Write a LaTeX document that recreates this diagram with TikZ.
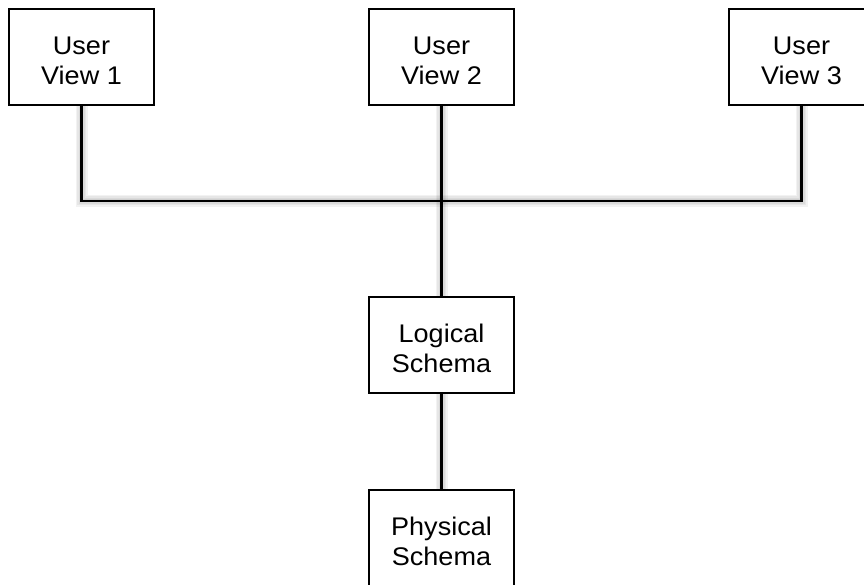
\documentclass[tikz,border=0pt]{standalone}
\usepackage{fontspec}
\setmainfont{Liberation Sans}[FakeStretch=1.06]
\begin{document}
\begin{tikzpicture}[x=1pt,y=-1pt,
  box/.style={draw=black, line width=2pt, fill=white, minimum width=145pt,
    minimum height=96pt, inner sep=0pt,
    label={[boxtext]center:#1}},
  boxtext/.style={align=center, yshift=-3.5pt, inner sep=0pt,
    font=\fontsize{25.5}{30}\selectfont},
  wire/.style={line width=2.4pt, black},
  softshadow/.style={line cap=butt, draw=black, draw opacity=0.05, shift={(4,4)}}
]
\useasboundingbox (0,0) rectangle (864,585);
\clip (0,0) rectangle (864,585);

% boxes
\node[box={User\\View 1}] (v1) at (81.5,57) {};
\node[box={User\\View 2}] (v2) at (441.5,57) {};
\node[box={User\\View 3}] (v3) at (801.5,57) {};
\node[box={Logical\\Schema}] (ls) at (441.5,345) {};
\node[box={Physical\\Schema}] (ps) at (441.5,537.5) {};

\coordinate (b1) at (v1.south |- 0,201);
\coordinate (b3) at (v3.south |- 0,201);

% soft shadows under the connectors
\foreach \w in {12,9,6,3} {
  \draw[softshadow, line width=\w pt] (v1.south) -- (b1) -- (b3) -- (v3.south);
  \draw[softshadow, line width=\w pt] (v2.south) -- (ls.north);
  \draw[softshadow, line width=\w pt] (ls.south) -- (ps.north);
}

% connectors
\draw[wire] (v1.south) -- (b1) -- (b3) -- (v3.south);
\draw[wire] (v2.south) -- (ls.north);
\draw[wire] (ls.south) -- (ps.north);
\end{tikzpicture}
\end{document}
